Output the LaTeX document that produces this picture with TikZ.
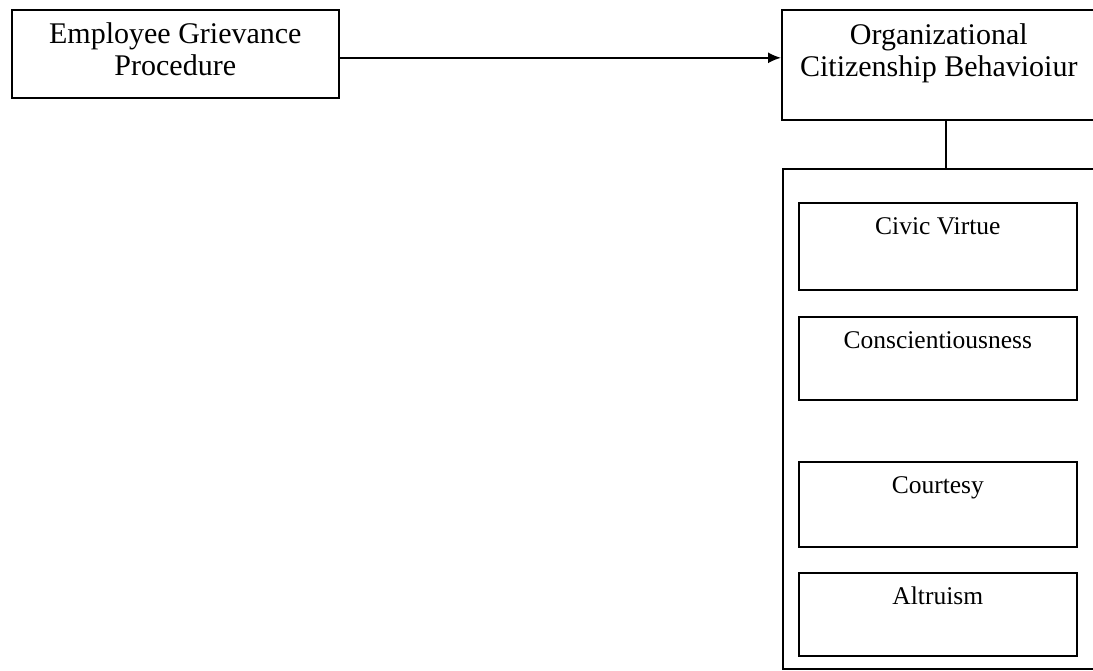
\documentclass[tikz,border=0pt]{standalone}
\usepackage{fontspec}
\setmainfont{Liberation Serif}
\usetikzlibrary{arrows.meta}
\tikzset{
  nd_main/.style={rectangle,draw=black,line width=1.6pt,inner sep=0pt,anchor=north west,align=center,font=\fontsize{30}{32}\selectfont},
  nd_grp/.style={rectangle,draw=black,line width=1.6pt,inner sep=0pt,anchor=north west,minimum width=330pt,minimum height=500pt},
  nd_dim/.style={rectangle,draw=black,line width=1.6pt,inner sep=0pt,anchor=north west,minimum width=278pt,align=center,text height=32pt,font=\fontsize{25.5}{28}\selectfont},
  arr/.style={-{Latex[length=13pt,width=11pt]},line width=1.6pt},
  ln/.style={line width=1.6pt},
}
\begin{document}
\begin{tikzpicture}[x=1pt,y=-1pt]
\useasboundingbox (0,0) rectangle (1093,670);
\clip (0,0) rectangle (1093,670);
\node[nd_main,minimum width=327pt,text height=66pt,text depth=22pt] at (11,9)(GP){Employee Grievance\\Procedure};
\node[nd_main,minimum width=314pt,text height=67pt,text depth=43pt] at (781,9)(OCB){Organizational\\Citizenship Behavioiur};
\node[nd_grp] at (782,168)(DIM){};
% dimensions
\node[nd_dim,text depth=55pt] at (798,202)(CV){Civic Virtue};
\node[nd_dim,text depth=51pt] at (798,316)(CO){Conscientiousness};
\node[nd_dim,text depth=53pt] at (798,461)(CT){Courtesy};
\node[nd_dim,text depth=51pt] at (798,572)(AL){Altruism};
% links
\coordinate (GPend) at ([yshift=-4pt]GP.east);
\coordinate (OCBfoot) at ([xshift=7pt]OCB.south);
\draw[arr](GPend)--(GPend -| OCB.west);
\draw[ln](OCBfoot)--(OCBfoot |- DIM.north);
\end{tikzpicture}
\end{document}
